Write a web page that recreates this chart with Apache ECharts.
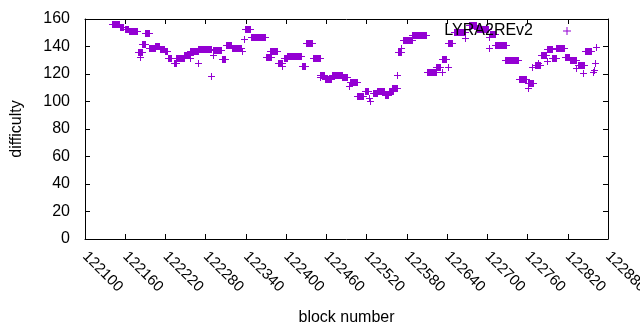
<!DOCTYPE html>
<html>
<head>
<meta charset="utf-8">
<script src="https://cdn.jsdelivr.net/npm/echarts@6/dist/echarts.min.js"></script>
<style>
html,body{margin:0;padding:0;background:#fff;}
#chart{width:640px;height:330px;}
</style>
</head>
<body>
<div id="chart"></div>
<script>
// Data: runs of consecutive blocks sharing one difficulty [firstBlock, lastBlock, difficulty]
const seriesName = 'LYRA2REv2';
const runs = [
[122140,122150,156.1],[122152,122157,154.4],[122159,122164,153.0],[122165,122177,151.0],
[122179,122185,135.8],[122182,122182,132.6],[122185,122189,141.6],[122190,122196,149.6],
[122196,122204,139.1],[122205,122211,140.1],[122212,122218,138.4],[122220,122223,136.5],
[122224,122229,131.9],[122233,122235,128.2],[122236,122247,131.9],[122248,122256,134.0],
[122256,122256,131.9],[122257,122268,136.7],[122269,122269,127.8],[122269,122288,138.0],
[122288,122288,118.3],[122291,122291,133.8],[122291,122303,137.2],[122304,122309,130.7],
[122310,122318,140.8],[122319,122332,138.7],[122334,122334,137.0],[122337,122337,145.2],
[122338,122346,152.5],[122347,122369,147.2],[122370,122377,132.1],[122376,122386,136.5],
[122388,122394,127.8],[122394,122394,125.5],[122397,122401,131.4],[122402,122422,132.8],
[122423,122428,126.0],[122429,122438,142.3],[122440,122450,131.4],[122450,122450,118.0],
[122451,122457,119.3],[122458,122467,116.1],[122468,122477,119.5],[122478,122483,119.0],
[122484,122491,117.8],[122493,122493,111.3],[122495,122505,114.4],[122506,122515,103.8],
[122517,122522,107.6],[122523,122523,102.5],[122525,122525,100.5],[122529,122535,106.0],
[122536,122546,107.4],[122547,122552,104.5],[122553,122559,107.9],[122558,122565,110.0],
[122566,122566,119.0],[122567,122572,136.0],[122572,122572,138.9],[122574,122587,144.5],
[122588,122609,148.1],[122610,122623,121.5],[122623,122630,124.9],[122632,122632,121.7],
[122632,122638,130.8],[122642,122642,124.9],[122642,122648,142.5],[122650,122666,150.3],
[122666,122666,146.4],[122672,122683,155.6],[122685,122701,152.7],[122702,122702,146.7],
[122702,122702,138.7],[122704,122712,148.9],[122712,122728,141.1],[122727,122746,130.2],
[122748,122758,116.4],[122760,122760,109.6],[122760,122768,113.2],[122767,122767,124.9],
[122771,122779,126.5],[122776,122776,128.2],[122780,122788,133.8],[122789,122789,129.5],
[122789,122796,138.0],[122797,122803,131.9],[122803,122815,138.7],[122816,122822,132.6],
[122824,122832,130.2],[122833,122833,124.1],[122835,122844,126.5],[122843,122843,121.0],
[122846,122854,136.7],[122858,122858,121.2],[122859,122859,123.0],[122860,122860,128.2],
[122862,122862,139.4]
];
const xMin = 122100, xMax = 122880, xStep = 60;
const yMin = 0, yMax = 160, yStep = 20;
const xTitle = 'block number';
const yTitle = 'difficulty';

const COLOR = '#9400D3';
const FONT = "'Liberation Sans', Arial, sans-serif";
const ARM = 3;
const chart = echarts.init(document.getElementById('chart'), null, {renderer: 'canvas'});

function renderItem(params, api) {
  const p0 = api.coord([api.value(0), api.value(2)]);
  const p1 = api.coord([api.value(1), api.value(2)]);
  const xa = Math.round(p0[0]), xb = Math.round(p1[0]) + 1, yc = Math.round(p0[1]);
  const t = yc - ARM, b = yc + ARM + 1, l = xa - ARM, r = xb + ARM;
  // outline of a "+" marker swept from xa to xb
  const pts = [
    [xa, t], [xb, t], [xb, yc], [r, yc], [r, yc + 1], [xb, yc + 1],
    [xb, b], [xa, b], [xa, yc + 1], [l, yc + 1], [l, yc], [xa, yc]
  ];
  return {
    type: 'polygon',
    silent: true,
    shape: {points: pts},
    style: {fill: COLOR, stroke: null, lineWidth: 0, opacity: 1}
  };
}

const axisCommon = {
  axisLine: {show: true, onZero: false, lineStyle: {color: '#000', width: 1}},
  axisTick: {show: true, inside: true, length: 5, lineStyle: {color: '#000'}},
  splitLine: {show: false}
};

chart.setOption({
  animation: false,
  color: [COLOR],
  grid: {left: 85, right: 32, top: 19, bottom: 91, containLabel: false, outerBoundsMode: 'none'},
  legend: {
    show: true,
    right: 69, top: 23, padding: 0,
    align: 'right',
    itemWidth: 8, itemHeight: 8,
    selectedMode: false,
    data: [{name: seriesName, icon: 'path://M0,3.5H8V4.5H0Z M3.5,0H4.5V8H3.5Z'}],
    textStyle: {fontFamily: FONT, fontSize: 16, color: '#000', padding: [0, 25, 0, 0]}
  },
  xAxis: [
    Object.assign({}, axisCommon, {
      type: 'value', min: xMin, max: xMax, interval: xStep, position: 'bottom',
      name: xTitle, nameLocation: 'middle', nameGap: 71,
      nameTextStyle: {fontFamily: FONT, fontSize: 16, color: '#000'},
      axisLabel: {rotate: -45, margin: 15, fontFamily: FONT, fontSize: 15, color: '#000',
                  formatter: v => String(v), showMaxLabel: true, hideOverlap: false}
    }),
    Object.assign({}, axisCommon, {
      type: 'value', min: xMin, max: xMax, interval: xStep, position: 'top',
      axisLabel: {show: false}
    })
  ],
  yAxis: [
    Object.assign({}, axisCommon, {
      type: 'value', min: yMin, max: yMax, interval: yStep, position: 'left',
      name: yTitle, nameLocation: 'middle', nameGap: 60, nameRotate: 90,
      nameTextStyle: {fontFamily: FONT, fontSize: 16, color: '#000'},
      axisLabel: {margin: 15, fontFamily: FONT, fontSize: 16, color: '#000'}
    }),
    Object.assign({}, axisCommon, {
      type: 'value', min: yMin, max: yMax, interval: yStep, position: 'right',
      axisLabel: {show: false}
    })
  ],
  series: [{
    name: seriesName,
    type: 'custom',
    renderItem: renderItem,
    silent: true,
    emphasis: {disabled: true},
    xAxisIndex: 0, yAxisIndex: 0,
    encode: {x: [0, 1], y: 2},
    itemStyle: {color: COLOR},
    data: runs
  }]
});
</script>
</body>
</html>
